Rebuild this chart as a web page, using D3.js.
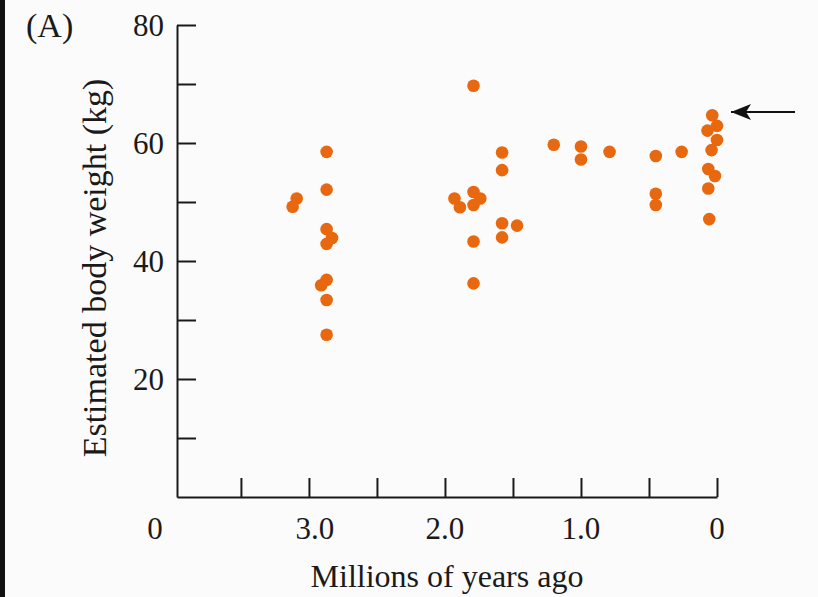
<!DOCTYPE html>
<html>
<head>
<meta charset="utf-8">
<script src="https://cdn.jsdelivr.net/npm/d3@7"></script>
<style>
  html, body { margin: 0; padding: 0; background: #fbfbfb; }
  svg { display: block; }
  text { font-family: "Liberation Serif", "DejaVu Serif", serif; fill: #1a1a1a; }
</style>
</head>
<body>
<svg id="chart" width="818" height="597"></svg>
<script>
// Ages (millions of years ago) and estimated body weights (kg)
var ages = [
    2.87, 2.87, 3.09, 3.12, 2.87, 2.83, 2.87, 2.87, 2.91, 2.87, 2.87,
    1.79, 1.58, 1.58, 1.79, 1.93, 1.74, 1.89, 1.79, 1.58, 1.47, 1.58, 1.79, 1.79,
    1.20, 1.00, 1.00, 0.79, 0.45, 0.26, 0.45, 0.45,
    0.035, 0.0, 0.07, 0.0, 0.04, 0.064, 0.015, 0.064, 0.057
];
var weights = [
    58.5, 52.1, 50.6, 49.2, 45.4, 43.9, 42.9, 36.8, 35.9, 33.4, 27.5,
    69.7, 58.4, 55.4, 51.7, 50.6, 50.6, 49.1, 49.5, 46.4, 46.0, 44.0, 43.3, 36.2,
    59.7, 59.4, 57.2, 58.5, 57.8, 58.5, 51.4, 49.5,
    64.7, 62.9, 62.1, 60.5, 58.8, 55.6, 54.4, 52.3, 47.1
];
var xTicks = [3.5, 3.0, 2.5, 2.0, 1.5, 1.0, 0.5, 0];
var xTickLabels = ["3.0", "2.0", "1.0", "0"];
var yTicks = [10, 20, 30, 40, 50, 60, 70, 80];
var yTickLabels = ["20", "40", "60", "80"];

var points = ages.map((a, i) => ({age: a, kg: weights[i]}));

var svg = d3.select("#chart");

// thin dark strip on the left edge of the scan
svg.append("rect").attr("x", 0).attr("y", 0).attr("width", 5).attr("height", 597).attr("fill", "#111");

var x = d3.scaleLinear().domain([3.97, 0]).range([177, 717]);
var y = d3.scaleLinear().domain([0, 80]).range([497, 25]);

// x axis, ticks pointing up into the plot
svg.append("g")
    .attr("transform", `translate(0,${y(0)})`)
    .call(d3.axisTop(x).tickValues(xTicks).tickSize(19).tickSizeOuter(0).tickFormat(""));

// y axis, ticks pointing right into the plot
svg.append("g")
    .attr("transform", `translate(${x(3.97)},0)`)
    .call(d3.axisRight(y).tickValues(yTicks).tickSize(19).tickSizeOuter(0).tickFormat(""));

svg.selectAll(".domain").attr("stroke", "#1a1a1a").attr("stroke-width", 2);
svg.selectAll(".tick line").attr("stroke", "#1a1a1a").attr("stroke-width", 2);

// x tick labels
svg.selectAll("text.xlab")
    .data(xTickLabels)
    .enter().append("text")
    .attr("class", "xlab")
    .attr("x", d => x(+d) + (d == "3.0" ? 6 : 0))
    .attr("y", 539)
    .attr("text-anchor", "middle")
    .attr("font-size", 31)
    .text(d => d);

// y tick labels
svg.selectAll("text.ylab")
    .data(yTickLabels)
    .enter().append("text")
    .attr("class", "ylab")
    .attr("x", 164)
    .attr("y", d => y(+d))
    .attr("dy", "0.35em")
    .attr("text-anchor", "end")
    .attr("font-size", 31)
    .text(d => d);

// the lone "0" for the weight axis sits down with the age labels
svg.append("text")
    .attr("x", 155).attr("y", 539)
    .attr("text-anchor", "middle")
    .attr("font-size", 31)
    .text("0");

// axis titles
svg.append("text")
    .attr("x", 447).attr("y", 587)
    .attr("text-anchor", "middle")
    .attr("font-size", 32)
    .text("Millions of years ago");

svg.append("text")
    .attr("transform", "translate(106,268) rotate(-90)")
    .attr("text-anchor", "middle")
    .attr("font-size", 34)
    .text("Estimated body weight (kg)");

svg.append("text")
    .attr("x", 26).attr("y", 37)
    .attr("font-size", 34)
    .text("(A)");

// data points
svg.append("g").selectAll("circle")
    .data(points)
    .enter().append("circle")
    .attr("cx", d => x(d.age))
    .attr("cy", d => y(d.kg))
    .attr("r", 6.3)
    .attr("fill", "#e8680f");

// arrow marking the modern value
svg.append("defs").append("marker")
    .attr("id", "head")
    .attr("viewBox", "0 0 20 16")
    .attr("refX", 20).attr("refY", 8)
    .attr("markerWidth", 20).attr("markerHeight", 16)
    .attr("markerUnits", "userSpaceOnUse")
    .attr("orient", "auto")
    .append("path")
    .attr("d", "M0,0 L20,8 L0,16 L5,8 Z")
    .attr("fill", "#111");

svg.append("line")
    .attr("x1", 795).attr("y1", 112)
    .attr("x2", 731).attr("y2", 112)
    .attr("stroke", "#111").attr("stroke-width", 2)
    .attr("marker-end", "url(#head)");
</script>
</body>
</html>
